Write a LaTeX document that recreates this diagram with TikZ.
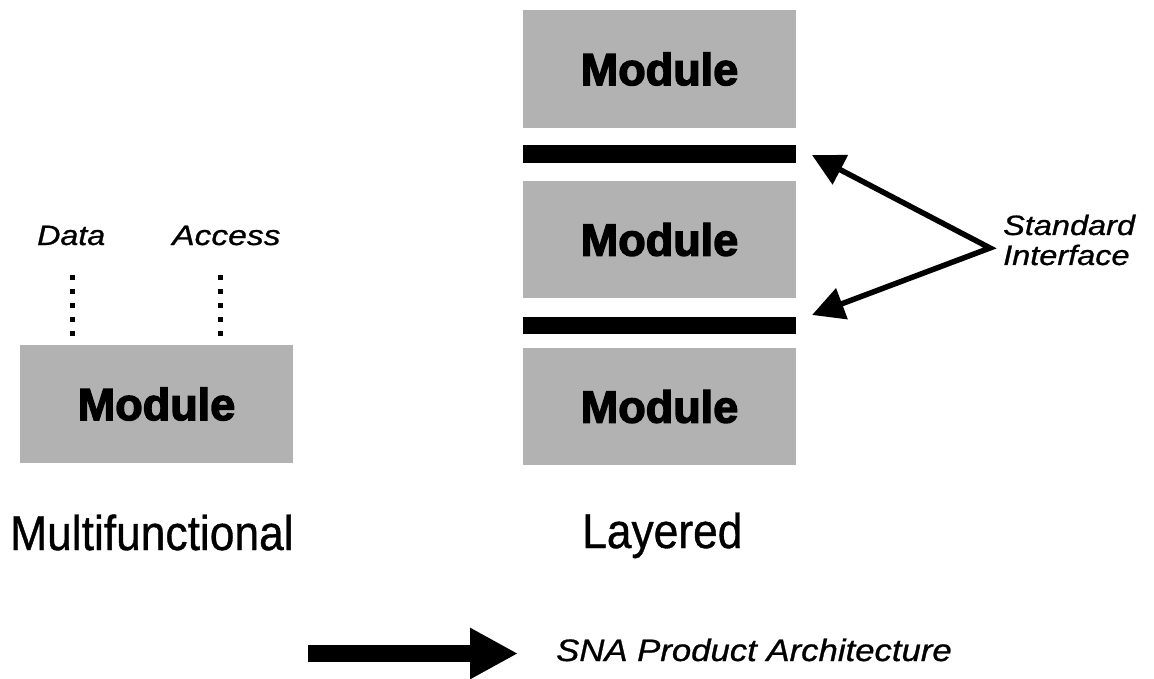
\documentclass[tikz,border=0pt]{standalone}
\usepackage{fontspec}
\setmainfont{Liberation Sans}
\newfontfamily\modf{Liberation Sans}[FakeBold=3]
\newfontfamily\txt{Liberation Sans}[FakeBold=0.8]
\usetikzlibrary{arrows.meta}
\tikzset{
  modbox/.style={fill=black!30, draw=none, minimum width=273pt, inner sep=0pt,
    font=\modf\bfseries\fontsize{45}{45}\selectfont},
  ifbar/.style={fill=black, draw=none, minimum width=273pt, inner sep=0pt},
  lbl/.style={anchor=base west, inner sep=0pt, font=\txt\itshape\fontsize{28}{30}\selectfont},
  big/.style={anchor=base west, inner sep=0pt, font=\txt\fontsize{49}{50}\selectfont},
  dotline/.style={line width=5pt, dash pattern=on 5pt off 9pt, line cap=butt},
  ifarrow/.style={line width=5.5pt, line join=miter, {Triangle[length=32pt,width=32pt]}-{Triangle[length=32pt,width=32pt]}},
  bigarrow/.style={line width=17pt, -{Triangle[length=48pt,width=48pt]}}
}
\begin{document}
\begin{tikzpicture}[x=1pt,y=-1pt]
\useasboundingbox (0,0) rectangle (1154,679);
% left: multifunctional
\node[modbox, minimum height=118pt] (m0) at (156.5,404) {Module};
\node[lbl] (data) at (37,245) {\scalebox{1.15}[1]{Data}};
\node[lbl] (access) at (172,245) {\scalebox{1.2}[1]{Access}};
\coordinate (dt) at (72,275);
\coordinate (at) at (220,275);
\draw[dotline] (dt) -- (dt |- m0.north);
\draw[dotline] (at) -- (at |- m0.north);
\node[big] (multi) at (10,550) {\scalebox{0.905}[1]{Multifunctional}};
% right: layered
\node[modbox, minimum height=118pt] (m1) at (659.5,69) {Module};
\node[ifbar, minimum height=18pt] (b1) at (659.5,154) {};
\node[modbox, minimum height=117pt] (m2) at (659.5,239.5) {Module};
\node[ifbar, minimum height=17pt] (b2) at (659.5,325.5) {};
\node[modbox, minimum height=117pt] (m3) at (659.5,406.5) {Module};
\node[big] (layered) at (582,548) {\scalebox{0.905}[1]{Layered}};
% standard interface
\node[lbl] (std) at (1003,235) {\scalebox{1.16}[1]{Standard}};
\node[lbl] (intf) at (1003,265) {\scalebox{1.16}[1]{Interface}};
\coordinate (apex) at (990,248);
\coordinate (t1) at (812,155);
\coordinate (t2) at (812,315);
\draw[ifarrow] (t1) -- (apex) -- (t2);
% legend
\coordinate (ba) at (308,653.5);
\coordinate (bb) at (518,653.5);
\draw[bigarrow] (ba) -- (bb);
\node[lbl, font=\txt\itshape\fontsize{31}{32}\selectfont] (sna) at (556,661) {\scalebox{1.12}[1]{SNA Product Architecture}};
\end{tikzpicture}
\end{document}
